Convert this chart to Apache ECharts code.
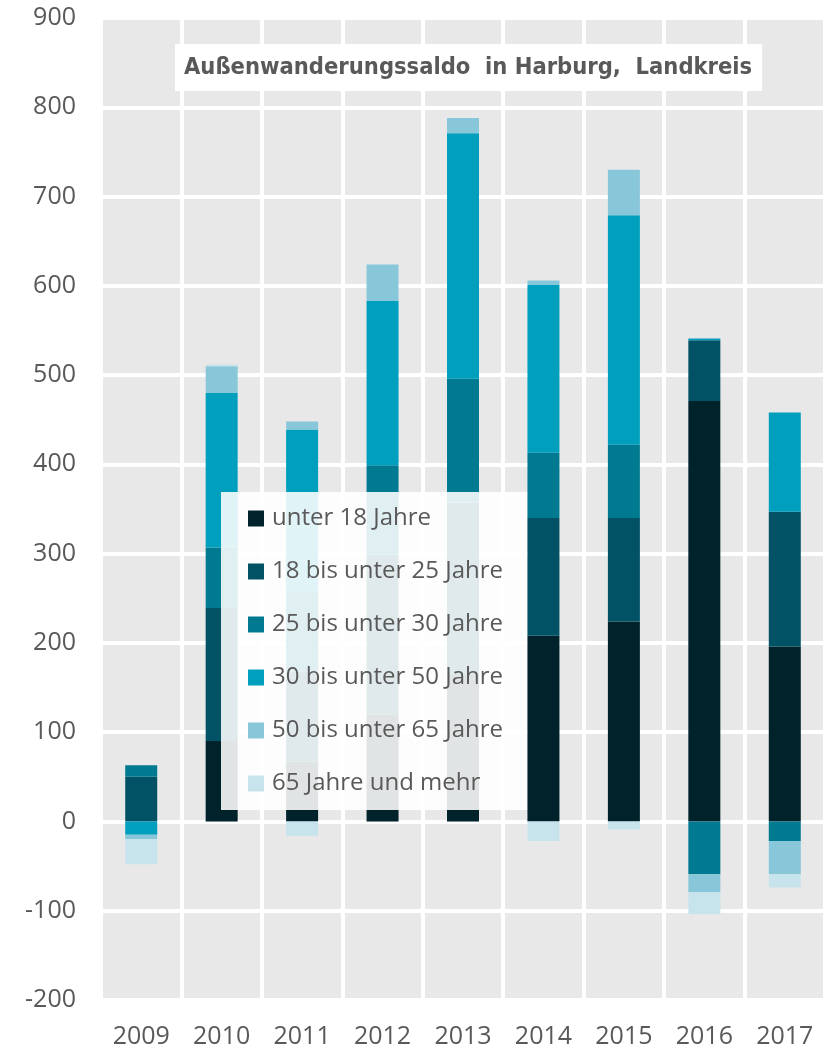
<!DOCTYPE html>
<html>
<head>
<meta charset="utf-8">
<script src="https://cdn.jsdelivr.net/npm/echarts@6/dist/echarts.min.js"></script>
<style>
  html, body { margin: 0; padding: 0; background: #fff; }
  #chart { width: 825px; height: 1052px; }
</style>
</head>
<body>
<div id="chart"></div>
<script>
// Jahre (x-Achse)
var years = ['2009', '2010', '2011', '2012', '2013', '2014', '2015', '2016', '2017'];
// Altersgruppen
var groupNames = ['unter 18 Jahre', '18 bis unter 25 Jahre', '25 bis unter 30 Jahre',
                  '30 bis unter 50 Jahre', '50 bis unter 65 Jahre', '65 Jahre und mehr'];
// Saldo je Altersgruppe
var unter18   = [0,   90,  67, 120, 164, 208, 224, 471, 196];
var bis25     = [50, 149, 101, 179, 193, 132, 116,  68, 151];
var bis30     = [13,  68,  90, 100, 139,  73,  82, -59, -22];
var bis50     = [-15, 173, 181, 184, 275, 188, 257,   2, 111];
var bis65     = [-5,  30,   9,  41,  17,   5,  51, -20, -37];
var ab65      = [-28,  2, -16,   0,   0, -22,  -9, -25, -15];
var colors = ['#00222b', '#005264', '#007a91', '#009fbe', '#88c7d9', '#c7e4ec'];

var allValues = [unter18, bis25, bis30, bis50, bis65, ab65];
var grau = '#595959';
var schrift = '"Open Sans", "Noto Sans", sans-serif';

var myChart = echarts.init(document.getElementById('chart'));

var seriesList = [];
for (var i = 0; i < groupNames.length; i++) {
    seriesList.push({
        name: groupNames[i],
        type: 'bar',
        stack: 'saldo',
        barWidth: 32,
        data: allValues[i],
        itemStyle: { color: colors[i] }
    });
}

var option = {
    animation: false,
    backgroundColor: '#ffffff',
    color: colors,
    title: {
        text: 'Außenwanderungssaldo  in Harburg,  Landkreis',
        left: 175,
        top: 44,
        backgroundColor: '#ffffff',
        padding: [12, 10, 11, 9],
        textStyle: {
            fontFamily: '"Liberation Sans Narrow", "DejaVu Sans Condensed", sans-serif',
            fontWeight: 'bold',
            fontSize: 23.5,
            color: grau
        }
    },
    legend: {
        orient: 'vertical',
        left: 221,
        top: 492,
        padding: [13, 24, 13, 27],
        backgroundColor: 'rgba(255,255,255,0.88)',
        itemWidth: 16,
        itemHeight: 16,
        itemGap: 26,
        icon: 'rect',
        textStyle: {
            fontFamily: schrift,
            fontSize: 24,
            lineHeight: 27,
            color: grau,
            padding: [0, 0, 0, 3]
        },
        data: groupNames
    },
    grid: {
        left: 101,
        top: 18,
        bottom: 52,
        width: 728,
        show: true,
        backgroundColor: '#e8e8e8',
        borderWidth: 0
    },
    xAxis: {
        type: 'category',
        data: years,
        axisLine: { show: false },
        axisTick: { show: false },
        splitLine: { show: true, interval: 0, lineStyle: { color: '#ffffff', width: 4 } },
        axisLabel: { fontFamily: schrift, fontSize: 25, color: grau, margin: 24 }
    },
    yAxis: {
        type: 'value',
        min: -200,
        max: 900,
        interval: 100,
        axisLine: { show: false },
        axisTick: { show: false },
        splitLine: { lineStyle: { color: '#ffffff', width: 4 } },
        axisLabel: { fontFamily: schrift, fontSize: 25, color: grau, margin: 25 }
    },
    series: seriesList
};

myChart.setOption(option);
</script>
</body>
</html>
